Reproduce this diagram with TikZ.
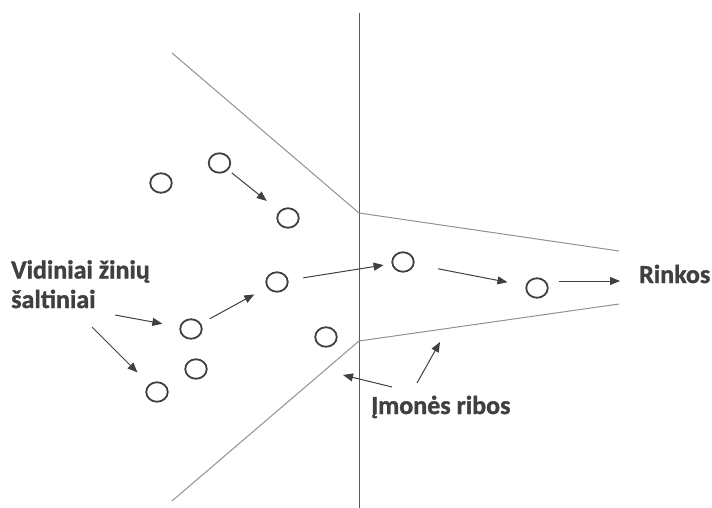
\documentclass[tikz,border=0pt]{standalone}
\usepackage{fontspec}
\setmainfont{Carlito}[BoldFeatures={FakeBold=1.2}]
\usepackage{xcolor}
\definecolor{ltdark}{RGB}{64,64,64}
\definecolor{ltline}{RGB}{89,89,89}
\definecolor{ltgrey}{RGB}{145,145,145}
\usetikzlibrary{arrows.meta, shapes.geometric, calc}

\begin{document}
\begin{tikzpicture}[
  x=1pt, y=-1pt,
  dot/.style={ellipse, draw=ltdark, line width=1.8pt, minimum width=21.5pt,
              minimum height=19.5pt, inner sep=0pt},
  arr/.style={-{Triangle[length=10pt, width=8pt]}, line width=1pt, color=ltdark},
  bound/.style={line width=1pt, color=ltgrey},
  lbl/.style={font=\fontsize{26}{29.5}\selectfont\bfseries, text=ltdark,
              inner sep=0pt, align=left}
]
  \useasboundingbox (0,0) rectangle (712,508);

  % firm boundary
  \coordinate (top) at (359,13);
  \coordinate (bot) at (359,508);
  \coordinate (ul) at (172,53);
  \coordinate (uj) at (359,213);
  \coordinate (ur) at (619,251);
  \coordinate (ll) at (172,501);
  \coordinate (lj) at (359,341);
  \coordinate (lr) at (619,304);
  \draw[line width=1pt, color=ltline] (top) -- (bot);
  \draw[bound] (ul) -- (uj) -- (ur);
  \draw[bound] (ll) -- (lj) -- (lr);

  % knowledge items
  \node[dot] (k1) at (161,183) {};
  \node[dot] (k2) at (219.5,163) {};
  \node[dot] (k3) at (288,218) {};
  \node[dot] (k4) at (277,282) {};
  \node[dot] (k5) at (191,329) {};
  \node[dot] (k6) at (196,369) {};
  \node[dot] (k7) at (157,392) {};
  \node[dot] (k8) at (326,337) {};
  \node[dot] (k9) at (403,262) {};
  \node[dot] (k10) at (537,288) {};

  % labels
  \node[lbl, anchor=base west] (vidin) at (11,308) {Vidiniai žinių\\šaltiniai};
  \node[lbl, anchor=base west] (ribos) at (371,414) {Įmonės ribos};
  \node[lbl, anchor=base west] (rinkos) at (639,283) {Rinkos};

  \coordinate (v1) at (115,315);
  \coordinate (v2) at (92,327);
  \coordinate (r1) at (392,387);
  \coordinate (r1e) at (343,375);
  \coordinate (r2) at (417,383);
  \coordinate (r2e) at (440,342);

  % flow of knowledge
  \draw[arr, shorten <=4.5pt, shorten >=16pt] (k2) -- (k3);
  \draw[arr, shorten <=10pt, shorten >=14.5pt] (k5) -- (k4);
  \draw[arr, shorten <=15pt, shorten >=8pt] (k4) -- (k9);
  \draw[arr, shorten <=24pt, shorten >=18.5pt] (k9) -- (k10);
  \draw[arr, shorten >=19pt] ($(k10.east |- rinkos.base west)+(10,-2)$)
    -- ($(rinkos.base west)+(0,-2)$);

  % label pointers
  \draw[arr, shorten >=17.5pt] (v1) -- (k5);
  \draw[arr, shorten >=16.5pt] (v2) -- (k7);
  \draw[arr] (r1) -- (r1e);
  \draw[arr] (r2) -- (r2e);
\end{tikzpicture}
\end{document}
